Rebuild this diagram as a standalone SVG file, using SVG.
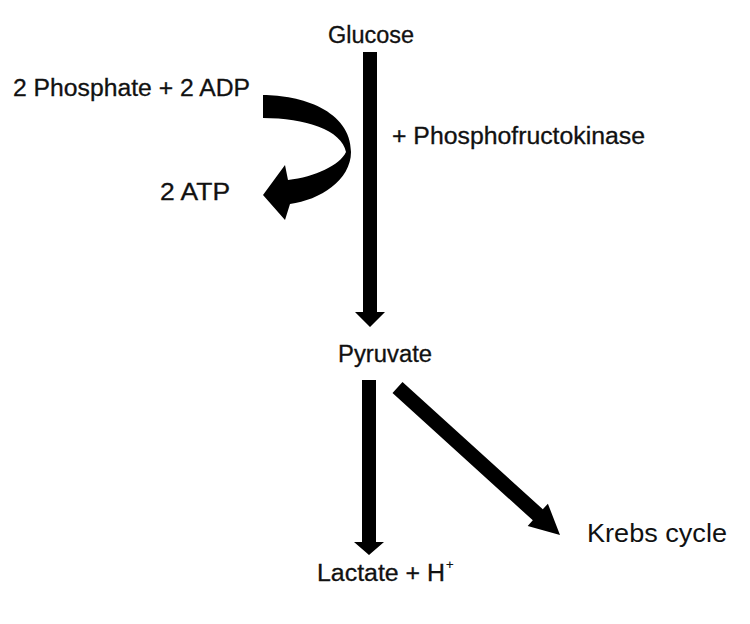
<svg xmlns="http://www.w3.org/2000/svg" width="750" height="624" viewBox="0 0 750 624">
<style>
.t{font-family:"Liberation Sans",Arial,sans-serif;font-size:23px;fill:#111;stroke:#111;stroke-width:0.3}
.k{font-family:"Liberation Sans",Arial,sans-serif;font-size:25px;fill:#111}
.a{fill:#000;stroke:none}
</style>
<rect width="750" height="624" fill="#fff"/>
<g id="connectors">
<polygon class="a" points="363,52 377,52 377,312 385,312 370,327 355,312 363,312"/>
<polygon class="a" points="362,380 376,380 376,542 384,542 369,555 354,542 362,542"/>
<polygon class="a" points="402.5,382 542.8,509.3 547.9,503.7 560,535 527.7,525.9 532.8,520.3 392.5,393.1"/>
<path class="a" d="M263,95 C300,95 351,110 351,152 C351,180 320,200 290,204 L285,220 L263,195 L285,165 L288,180 C315,177 340,165 346,152 C342,130 305,118 263,118 Z"/>
</g>
<g id="glucose"><text class="t" x="328" y="43" textLength="86" lengthAdjust="spacingAndGlyphs">Glucose</text></g>
<g id="phosphate-adp"><text class="t" x="13" y="96" textLength="237" lengthAdjust="spacingAndGlyphs">2 Phosphate + 2 ADP</text></g>
<g id="atp"><text class="t" x="160" y="200" textLength="70" lengthAdjust="spacingAndGlyphs">2 ATP</text></g>
<g id="enzyme"><text class="t" x="392" y="144" textLength="253" lengthAdjust="spacingAndGlyphs">+ Phosphofructokinase</text></g>
<g id="pyruvate"><text class="t" x="338" y="362" textLength="94" lengthAdjust="spacingAndGlyphs">Pyruvate</text></g>
<g id="lactate"><text class="t" x="317" y="581"><tspan textLength="128" lengthAdjust="spacingAndGlyphs">Lactate + H</tspan><tspan x="446" y="569" font-size="13" stroke-width="0.2">+</tspan></text></g>
<g id="krebs"><text class="k" x="587" y="542" textLength="140" lengthAdjust="spacingAndGlyphs">Krebs cycle</text></g>
</svg>
